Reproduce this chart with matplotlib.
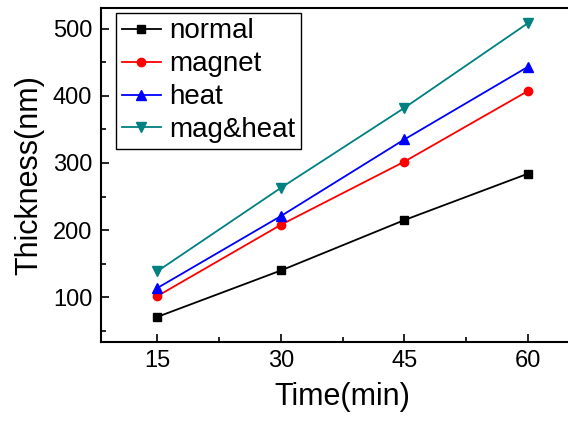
import matplotlib
matplotlib.use("Agg")
import matplotlib.pyplot as plt
from matplotlib.ticker import MultipleLocator

plt.rcParams["font.family"] = ["Liberation Sans", "DejaVu Sans"]

# deposition time and film thickness for each treatment
time_min = [15, 30, 45, 60]
normal = [71, 140, 215, 284]
magnet = [102, 208, 302, 407]
heat = [114, 221, 335, 443]
mag_heat = [139, 263, 382, 508]

series = [
    ("normal", normal, "black", "s", 5.5),
    ("magnet", magnet, "red", "o", 6),
    ("heat", heat, "blue", "^", 7),
    ("mag&heat", mag_heat, "#008080", "v", 7),
]

fig = plt.figure(figsize=(5.68, 4.22), dpi=100)
ax = fig.add_axes([0.1773, 0.1903, 0.8518, 0.7896])

for name, vals, color, marker, ms in series:
    ax.plot(time_min, vals, color=color, marker=marker, markersize=ms,
            linewidth=1.3, label=name)

ax.set_xlim(8.1, 66.9)
ax.set_ylim(34, 530)
ax.xaxis.set_major_locator(MultipleLocator(15))
ax.xaxis.set_minor_locator(MultipleLocator(7.5))
ax.yaxis.set_major_locator(MultipleLocator(100))
ax.yaxis.set_minor_locator(MultipleLocator(50))
ax.tick_params(which="both", direction="in", top=False, right=False,
               width=1.2, labelsize=17)
ax.tick_params(which="major", length=6, pad=6)
ax.tick_params(which="minor", length=3.5)
for side in ["left", "bottom", "top", "right"]:
    ax.spines[side].set_linewidth(1.5)

ax.set_xlabel("Time(min)", fontsize=22, labelpad=7)
ax.set_ylabel("Thickness(nm)", fontsize=22, labelpad=6)

leg = ax.legend(loc="upper left", bbox_to_anchor=(0.032, 0.987),
                fontsize=20, frameon=True, fancybox=False,
                edgecolor="black", framealpha=1, handlelength=1.4,
                handletextpad=0.3, labelspacing=0.25, borderpad=0.2,
                borderaxespad=0)
leg.get_frame().set_linewidth(1.0)

fig.savefig("out.png", dpi=100)
